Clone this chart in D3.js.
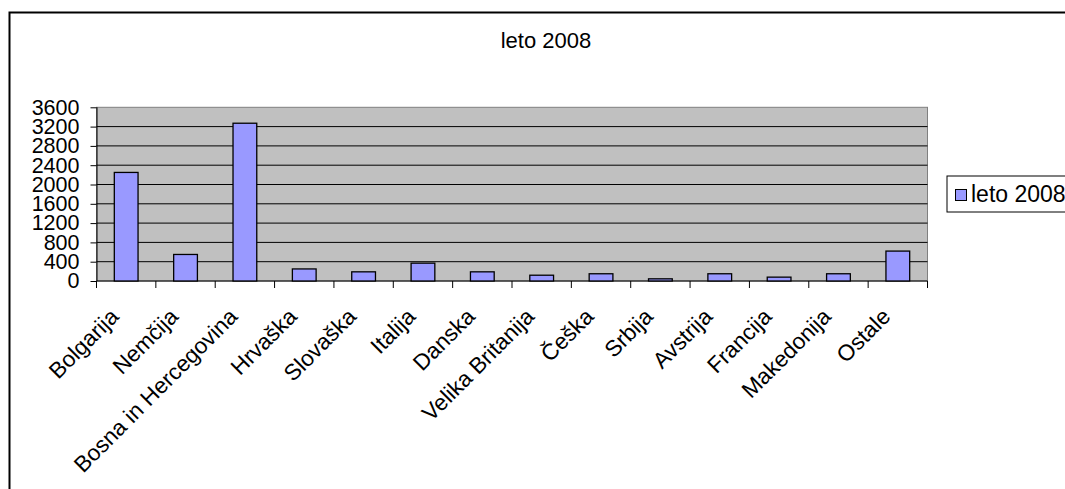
<!DOCTYPE html>
<html>
<head>
<meta charset="utf-8">
<script src="https://cdn.jsdelivr.net/npm/d3@7"></script>
<style>
  body { margin: 0; background: #fff; }
  text { font-family: "Liberation Sans", Arial, sans-serif; fill: #000; }
</style>
</head>
<body>
<div id="chart"></div>
<script>
// Chart data
var title = "leto 2008";
var seriesName = "leto 2008";
var categories = ["Bolgarija", "Nemčija", "Bosna in Hercegovina", "Hrvaška", "Slovaška", "Italija", "Danska",
  "Velika Britanija", "Češka", "Srbija", "Avstrija", "Francija", "Makedonija", "Ostale"];
var values = [2250, 550, 3270, 250, 190, 370, 190, 120, 150, 45, 150, 80, 150, 620];
var yTicks = [0, 400, 800, 1200, 1600, 2000, 2400, 2800, 3200, 3600];

// Bounding box
var width = 1065, height = 489;
var plot = { left: 96.5, right: 927.5, top: 107.3, bottom: 281 };

var svg = d3.select("#chart").append("svg")
    .attr("width", width)
    .attr("height", height);

// Outer chart frame (only top and left edges show inside the window)
svg.append("rect")
    .attr("x", 9.5).attr("y", 12.5)
    .attr("width", 1200).attr("height", 600)
    .style("fill", "none")
    .style("stroke", "#000")
    .style("stroke-width", 2);

// Title
svg.append("text")
    .attr("x", 546).attr("y", 48)
    .attr("text-anchor", "middle")
    .style("font-size", "22px")
    .text(title);

// Scales
var xScale = d3.scaleBand()
    .domain(categories)
    .range([plot.left, plot.right])
    .paddingInner(0.6)
    .paddingOuter(0.3);
var step = (plot.right - plot.left) / categories.length;
var yScale = d3.scaleLinear()
    .domain([0, 3600])
    .range([plot.bottom, plot.top]);

// Plot area background
svg.append("rect")
    .attr("x", plot.left).attr("y", plot.top)
    .attr("width", plot.right - plot.left)
    .attr("height", plot.bottom - plot.top)
    .style("fill", "#c0c0c0")
    .style("stroke", "#808080")
    .style("stroke-width", 1);

// Gridlines
svg.append("g").selectAll("line")
    .data(yTicks.filter(d => d > 0 && d < 3600))
    .enter().append("line")
    .attr("x1", plot.left).attr("x2", plot.right)
    .attr("y1", d => yScale(d)).attr("y2", d => yScale(d))
    .style("stroke", "#000")
    .style("stroke-width", 1);

// Y axis
var yAxis = svg.append("g")
    .attr("transform", "translate(" + plot.left + ",0)")
    .call(d3.axisLeft(yScale).tickValues(yTicks).tickSize(6).tickPadding(11).tickFormat(d3.format("d")));
yAxis.selectAll("text").style("font-size", "21.5px").style("font-family", "Liberation Sans, Arial, sans-serif");
yAxis.select(".domain").attr("d", "M0.5," + plot.top + "V" + plot.bottom);

// X axis: ticks at category boundaries
var xg = svg.append("g");
xg.append("line")
    .attr("x1", plot.left).attr("x2", plot.right)
    .attr("y1", plot.bottom).attr("y2", plot.bottom)
    .style("stroke", "#000");
xg.selectAll("line.tick")
    .data(d3.range(categories.length + 1))
    .enter().append("line")
    .attr("class", "tick")
    .attr("x1", i => plot.left + i * step).attr("x2", i => plot.left + i * step)
    .attr("y1", plot.bottom).attr("y2", plot.bottom + 7)
    .style("stroke", "#000");

// Bars
svg.append("g").selectAll("rect")
    .data(values)
    .enter().append("rect")
    .attr("x", (d, i) => xScale(categories[i]))
    .attr("y", d => yScale(d))
    .attr("width", xScale.bandwidth())
    .attr("height", d => yScale(0) - yScale(d))
    .style("fill", "#9999ff")
    .style("stroke", "#000")
    .style("stroke-width", 1.3);

// Rotated category labels
svg.append("g").selectAll("text")
    .data(categories)
    .enter().append("text")
    .attr("transform", d => "translate(" + (xScale(d) + xScale.bandwidth() / 2 - 6) + ",318) rotate(-45)")
    .attr("text-anchor", "end")
    .style("font-size", "22.5px")
    .text(d => d);

// Legend
var legend = svg.append("g");
legend.append("rect")
    .attr("x", 947).attr("y", 176)
    .attr("width", 200).attr("height", 36)
    .style("fill", "#fff")
    .style("stroke", "#000");
legend.append("rect")
    .attr("x", 955.5).attr("y", 189.5)
    .attr("width", 11).attr("height", 11)
    .style("fill", "#9999ff")
    .style("stroke", "#000");
legend.append("text")
    .attr("x", 971).attr("y", 201.5)
    .style("font-size", "23px")
    .text(seriesName);
</script>
</body>
</html>
